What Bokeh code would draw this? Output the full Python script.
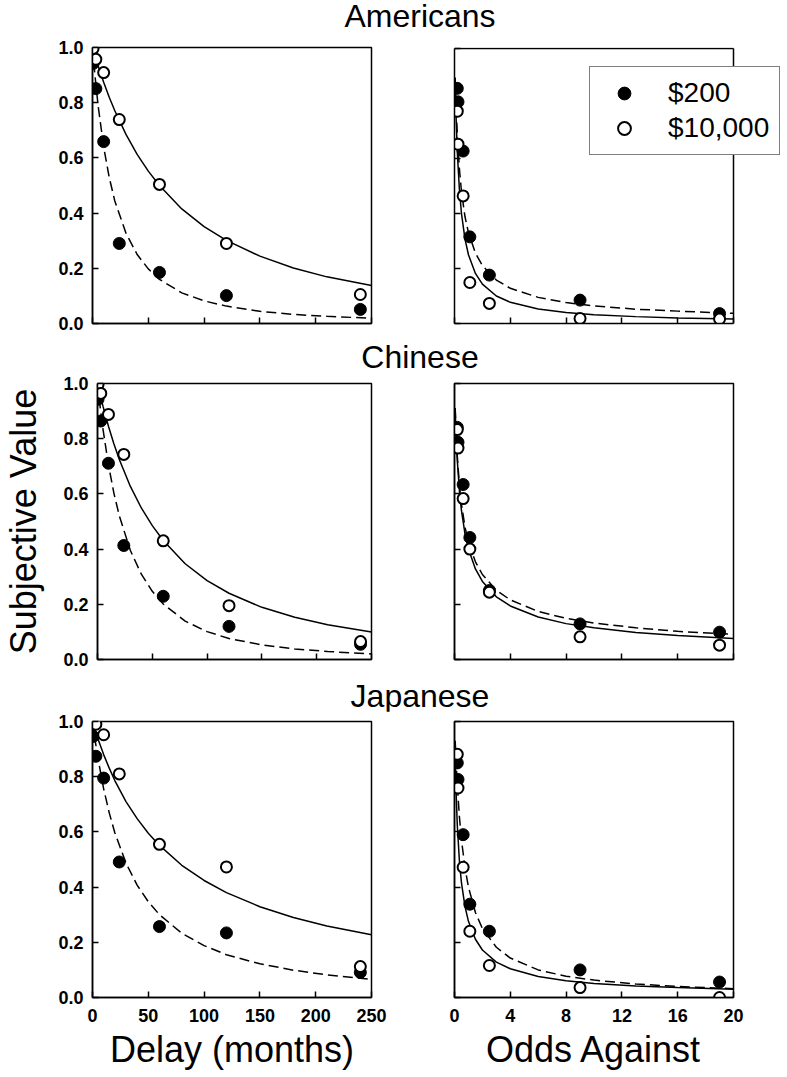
from bokeh.plotting import figure
from bokeh.models import (Range1d, FixedTicker, PrintfTickFormatter, Legend,
                          LegendItem, Div, CustomLabelingPolicy)
from bokeh.layouts import column, row
from bokeh.embed import file_html
from bokeh.resources import INLINE

FONT = "Liberation Sans"

# ---------------- data ----------------
GROUPS = ["Americans", "Chinese", "Japanese"]
SERIES = ["$200", "$10,000"]

DELAYS = [0.5, 3, 10, 24, 60, 120, 240]          # months
ODDS = [0.2, 0.25, 0.62, 1.1, 2.5, 9, 19]         # odds against

AM_DELAY_200 = [0.942, 0.851, 0.659, 0.29, 0.185, 0.101, 0.051]
AM_DELAY_10K = [0.996, 0.957, 0.909, 0.739, 0.504, 0.29, 0.105]
CH_DELAY_200 = [0.943, 0.864, 0.711, 0.413, 0.229, 0.12, 0.055]
CH_DELAY_10K = [0.996, 0.964, 0.888, 0.743, 0.43, 0.195, 0.065]
JP_DELAY_200 = [0.946, 0.874, 0.795, 0.491, 0.257, 0.234, 0.091]
JP_DELAY_10K = [0.995, 0.99, 0.952, 0.81, 0.555, 0.473, 0.112]

AM_ODDS_200 = [0.855, 0.806, 0.627, 0.315, 0.176, 0.085, 0.036]
AM_ODDS_10K = [0.772, 0.652, 0.464, 0.149, 0.073, 0.018, 0.016]
CH_ODDS_200 = [0.841, 0.787, 0.634, 0.442, 0.25, 0.129, 0.099]
CH_ODDS_10K = [0.833, 0.766, 0.583, 0.40, 0.244, 0.082, 0.052]
JP_ODDS_200 = [0.85, 0.79, 0.59, 0.338, 0.24, 0.10, 0.056]
JP_ODDS_10K = [0.881, 0.759, 0.472, 0.24, 0.116, 0.036, 0.0]

# fitted curves, values
DELAY_GRID = [0, 2, 5, 10, 15, 20, 30, 40, 50, 60, 80, 100, 120, 150, 180, 210, 250]
AM_DELAY_FIT_200 = [1, 0.907, 0.790, 0.64, 0.529, 0.444, 0.327, 0.25, 0.198, 0.16, 0.111, 0.082, 0.063, 0.044, 0.033, 0.026, 0.019]
AM_DELAY_FIT_10K = [1, 0.973, 0.934, 0.874, 0.820, 0.771, 0.685, 0.613, 0.552, 0.50, 0.415, 0.351, 0.301, 0.244, 0.201, 0.169, 0.138]
CH_DELAY_FIT_200 = [1, 0.929, 0.835, 0.705, 0.602, 0.519, 0.395, 0.309, 0.247, 0.201, 0.139, 0.101, 0.076, 0.053, 0.038, 0.029, 0.020]
CH_DELAY_FIT_10K = [1, 0.966, 0.918, 0.845, 0.781, 0.724, 0.627, 0.549, 0.485, 0.431, 0.347, 0.286, 0.240, 0.189, 0.153, 0.126, 0.100]
JP_DELAY_FIT_200 = [1, 0.941, 0.864, 0.756, 0.669, 0.597, 0.487, 0.407, 0.347, 0.300, 0.233, 0.188, 0.155, 0.122, 0.099, 0.082, 0.066]
JP_DELAY_FIT_10K = [1, 0.974, 0.936, 0.880, 0.831, 0.786, 0.710, 0.648, 0.595, 0.551, 0.479, 0.424, 0.380, 0.329, 0.290, 0.259, 0.227]

ODDS_GRID = [0.05, 0.1, 0.2, 0.35, 0.5, 0.75, 1, 1.5, 2, 3, 4, 6, 8, 10, 13, 16, 20]
AM_ODDS_FIT_200 = [0.894, 0.811, 0.687, 0.563, 0.480, 0.389, 0.330, 0.256, 0.211, 0.158, 0.128, 0.095, 0.076, 0.064, 0.052, 0.045, 0.037]
AM_ODDS_FIT_10K = [0.870, 0.769, 0.625, 0.488, 0.400, 0.308, 0.250, 0.182, 0.143, 0.100, 0.077, 0.053, 0.040, 0.032, 0.025, 0.020, 0.016]
CH_ODDS_FIT_200 = [0.911, 0.842, 0.738, 0.633, 0.562, 0.481, 0.425, 0.354, 0.308, 0.251, 0.216, 0.174, 0.149, 0.132, 0.115, 0.102, 0.091]
CH_ODDS_FIT_10K = [0.906, 0.832, 0.722, 0.613, 0.539, 0.456, 0.400, 0.328, 0.283, 0.227, 0.194, 0.154, 0.130, 0.115, 0.098, 0.087, 0.076]
JP_ODDS_FIT_200 = [0.930, 0.870, 0.769, 0.656, 0.571, 0.471, 0.400, 0.308, 0.250, 0.182, 0.143, 0.100, 0.077, 0.063, 0.049, 0.040, 0.032]
JP_ODDS_FIT_10K = [0.864, 0.764, 0.625, 0.496, 0.415, 0.330, 0.276, 0.211, 0.172, 0.128, 0.104, 0.076, 0.061, 0.051, 0.042, 0.036, 0.030]

DELAY_MAX, ODDS_MAX, Y_MAX = 250, 20, 1.0
DELAY_TICKS = [0, 50, 100, 150, 200, 250]
ODDS_TICKS = [0, 4, 8, 12, 16, 20]
Y_TICKS = [0, 0.2, 0.4, 0.6, 0.8, 1.0]

# ---------------- layout geometry (pixels) ----------------
FRAME_W = 279
LEFT_BL, LEFT_BR = 92, 20
RIGHT_BL, RIGHT_BR = 63, 54
LEG_BR = 2                      # top-right panel: frame widened for the legend
ROW_GEOM = [  # (border_top, frame_h, border_bottom)
    (15, 276, 19),
    (11, 276, 22),
    (10, 276, 80),
]
TITLE_H = [32, 30, 30]
TITLE_LEFT = 270

HIDE_LABELS = "for (const i of indices) indices.unset(i)"


def style(p, xticks, show_xlabels, show_ylabels, xlabel=None, ylabel=None):
    p.xgrid.visible = False
    p.ygrid.visible = False
    p.outline_line_color = "black"
    p.outline_line_width = 1.5
    p.outline_line_alpha = 1.0
    p.background_fill_color = "white"
    p.border_fill_color = "white"
    for ax in (p.xaxis[0], p.yaxis[0]):
        ax.axis_line_width = 1.5
        ax.axis_line_color = "black"
        ax.major_tick_line_width = 1.5
        ax.major_tick_line_color = "black"
        ax.major_tick_in = 6
        ax.major_tick_out = 0
        ax.minor_tick_in = 0
        ax.minor_tick_out = 0
        ax.major_label_text_font = FONT
        ax.major_label_text_font_style = "bold"
        ax.major_label_text_font_size = "18px"
        ax.major_label_text_color = "black"
        ax.axis_label_text_font = FONT
        ax.axis_label_text_font_style = "normal"
        ax.axis_label_text_font_size = "36px"
        ax.axis_label_text_color = "black"
    p.xaxis[0].ticker = FixedTicker(ticks=xticks)
    p.yaxis[0].ticker = FixedTicker(ticks=Y_TICKS)
    p.yaxis[0].formatter = PrintfTickFormatter(format="%.1f")
    p.xaxis[0].major_label_standoff = 11
    p.yaxis[0].major_label_standoff = 9
    if not show_xlabels:
        p.xaxis[0].major_label_policy = CustomLabelingPolicy(code=HIDE_LABELS)
        p.xaxis[0].major_label_text_font_size = "2px"
        p.xaxis[0].major_label_standoff = 0
    if not show_ylabels:
        p.yaxis[0].major_label_policy = CustomLabelingPolicy(code=HIDE_LABELS)
        p.yaxis[0].major_label_text_font_size = "2px"
        p.yaxis[0].major_label_standoff = 0
    if xlabel:
        p.xaxis[0].axis_label = xlabel
        p.xaxis[0].axis_label_standoff = 4
    if ylabel:
        p.yaxis[0].axis_label = ylabel
        p.yaxis[0].axis_label_standoff = 16


def panel(left, ri, xs, y200, y10k, grid, fit200, fit10k, widen=False):
    bt, fh, bb = ROW_GEOM[ri]
    yend = Y_MAX
    if left:
        bl, br, xmax, ticks = LEFT_BL, LEFT_BR, DELAY_MAX, DELAY_TICKS
        w = bl + FRAME_W + br
        xend = xmax
    else:
        bl, br, xmax, ticks = RIGHT_BL, RIGHT_BR, ODDS_MAX, ODDS_TICKS
        w = bl + FRAME_W + br
        xend = xmax
        if widen:
            # widen the frame to the right (legend overlaps the panel edge)
            fw = FRAME_W + RIGHT_BR - LEG_BR
            xend = xmax * fw / FRAME_W
            br = LEG_BR
            # one extra pixel on top so the drawn box edge is not clipped
            yend = Y_MAX * (fh + 1) / fh
            bt, fh = bt - 1, fh + 1
    h = bt + fh + bb
    p = figure(width=w, height=h, x_range=Range1d(0, xend), y_range=Range1d(0, yend),
               toolbar_location=None, output_backend="svg",
               min_border_left=bl, min_border_right=br,
               min_border_top=bt, min_border_bottom=bb)
    xlabel = None
    if ri == 2:
        xlabel = "Delay (months)" if left else "Odds Against"
    ylabel = "Subjective Value" if (left and ri == 1) else None
    style(p, ticks, ri == 2, left, xlabel, ylabel)
    if widen:
        # panel box: top and right edges at the axis limits
        p.outline_line_color = None
        p.xaxis[0].bounds = (0, xmax)
        p.yaxis[0].bounds = (0, Y_MAX)
        p.segment(x0=[0, xmax], y0=[Y_MAX, 0], x1=[xmax, xmax], y1=[Y_MAX, Y_MAX],
                  line_color="black", line_width=1.5)
    p.line(grid, fit200, line_color="black", line_width=1.5, line_dash="10 5")
    p.line(grid, fit10k, line_color="black", line_width=1.5)
    rf = p.scatter(xs, y200, marker="circle", size=12, fill_color="black",
                   line_color="black", line_width=1)
    ro = p.scatter(xs, y10k, marker="circle", size=11, fill_color="white",
                   line_color="black", line_width=2)
    return p, rf, ro


def title_div(txt, h):
    html = ('<div style="position:relative;left:%dpx;width:300px;'
            'text-align:center;font-family:\'Liberation Sans\',Arial,sans-serif;'
            'font-size:32px;line-height:%dpx;color:#000;white-space:nowrap;">%s</div>'
            % (TITLE_LEFT, h, txt))
    total_w = (LEFT_BL + FRAME_W + LEFT_BR) + (RIGHT_BL + FRAME_W + RIGHT_BR)
    return Div(text=html, width=total_w, height=h, margin=(0, 0, 0, 0))


DELAY_DATA = [(AM_DELAY_200, AM_DELAY_10K, AM_DELAY_FIT_200, AM_DELAY_FIT_10K),
              (CH_DELAY_200, CH_DELAY_10K, CH_DELAY_FIT_200, CH_DELAY_FIT_10K),
              (JP_DELAY_200, JP_DELAY_10K, JP_DELAY_FIT_200, JP_DELAY_FIT_10K)]
ODDS_DATA = [(AM_ODDS_200, AM_ODDS_10K, AM_ODDS_FIT_200, AM_ODDS_FIT_10K),
             (CH_ODDS_200, CH_ODDS_10K, CH_ODDS_FIT_200, CH_ODDS_FIT_10K),
             (JP_ODDS_200, JP_ODDS_10K, JP_ODDS_FIT_200, JP_ODDS_FIT_10K)]

items = []
for ri, g in enumerate(GROUPS):
    d200, d10k, df200, df10k = DELAY_DATA[ri]
    o200, o10k, of200, of10k = ODDS_DATA[ri]
    pl, _, _ = panel(True, ri, DELAYS, d200, d10k, DELAY_GRID, df200, df10k)
    pr, rf, ro = panel(False, ri, ODDS, o200, o10k, ODDS_GRID, of200, of10k,
                       widen=(ri == 0))
    if ri == 0:
        leg = Legend(items=[LegendItem(label=SERIES[0], renderers=[rf]),
                            LegendItem(label=SERIES[1], renderers=[ro])],
                     location=(135, 168))
        leg.label_text_font = FONT
        leg.label_text_font_size = "28px"
        leg.label_text_color = "black"
        leg.label_height = 32
        leg.glyph_width = 48
        leg.glyph_height = 32
        leg.label_standoff = 20
        leg.spacing = 3
        leg.padding = 10
        leg.margin = 0
        leg.border_line_color = "black"
        leg.border_line_width = 1.5
        leg.background_fill_color = "white"
        leg.background_fill_alpha = 1.0
        pr.add_layout(leg)
    items.append(title_div(g, TITLE_H[ri]))
    items.append(row(pl, pr))

layout = column(*items)
open("out.html", "w").write(file_html(layout, INLINE))
